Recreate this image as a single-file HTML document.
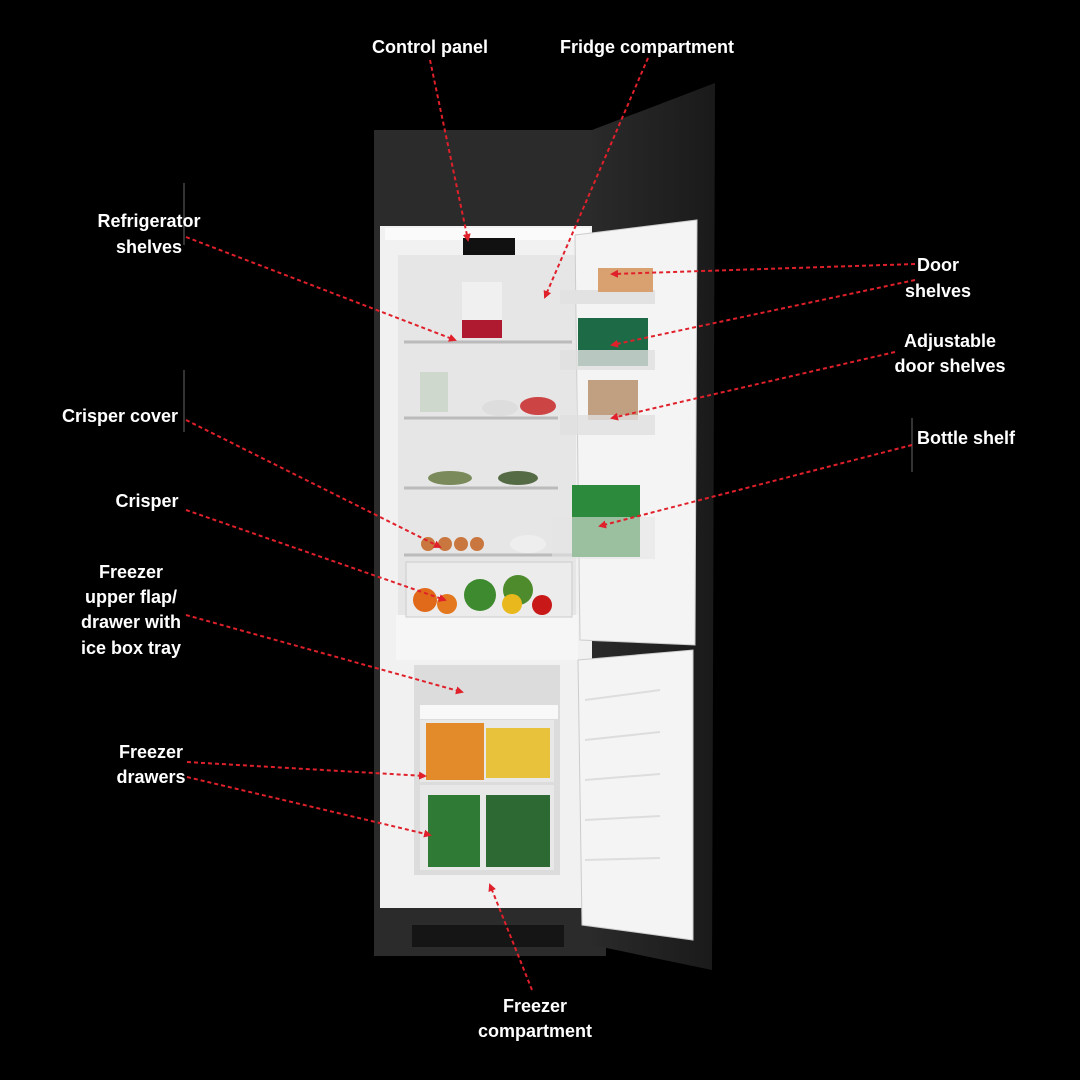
<!DOCTYPE html>
<html><head><meta charset="utf-8"><style>
html,body{margin:0;padding:0;background:#000;}
svg{display:block}
text{font-family:"Liberation Sans",sans-serif;font-weight:bold;font-size:18px;fill:#fff;text-anchor:middle}
</style></head><body>
<svg width="1080" height="1080" viewBox="0 0 1080 1080" xmlns="http://www.w3.org/2000/svg">
<defs>
<marker id="a" markerWidth="8" markerHeight="8" refX="6" refY="4" orient="auto" markerUnits="userSpaceOnUse"><path d="M0,0 L8,4 L0,8 z" fill="#e0202a"/></marker>
<linearGradient id="door" x1="0" x2="1"><stop offset="0" stop-color="#2a2a2a"/><stop offset="1" stop-color="#1a1a1a"/></linearGradient>
</defs>
<rect width="1080" height="1080" fill="#000"/>
<rect x="374" y="130" width="232" height="826" fill="#2b2b2b"/>
<polygon points="592,130 715,83 712,970 592,945" fill="url(#door)"/>
<rect x="380" y="226" width="212" height="682" fill="#f1f1f1"/>
<rect x="398" y="255" width="178" height="360" fill="#e6e6e6"/>
<rect x="385" y="228" width="205" height="12" fill="#fafafa"/>
<rect x="463" y="238" width="52" height="17" fill="#111"/>
<rect x="396" y="615" width="182" height="45" fill="#f6f6f6"/>
<rect x="414" y="665" width="146" height="210" fill="#dcdcdc"/>
<rect x="420" y="705" width="138" height="14" fill="#f8f8f8"/>
<rect x="420" y="720" width="134" height="62" fill="#e8e8e8"/>
<rect x="420" y="785" width="134" height="85" fill="#e8e8e8"/>
<rect x="462" y="282" width="40" height="38" fill="#f0f0f0"/>
<rect x="462" y="320" width="40" height="18" fill="#b01a30"/>
<line x1="404" y1="342" x2="572" y2="342" stroke="#bbb" stroke-width="3"/>
<line x1="404" y1="418" x2="558" y2="418" stroke="#bbb" stroke-width="3"/>
<line x1="404" y1="488" x2="558" y2="488" stroke="#bbb" stroke-width="3"/>
<line x1="404" y1="555" x2="572" y2="555" stroke="#bbb" stroke-width="3"/>
<rect x="420" y="372" width="28" height="40" fill="#cfd8cc"/>
<ellipse cx="500" cy="408" rx="18" ry="8" fill="#ddd"/><ellipse cx="538" cy="406" rx="18" ry="9" fill="#c44"/>
<ellipse cx="450" cy="478" rx="22" ry="7" fill="#7a8a5a"/><ellipse cx="518" cy="478" rx="20" ry="7" fill="#556b45"/>
<g fill="#c9773e"><circle cx="428" cy="544" r="7"/><circle cx="445" cy="544" r="7"/><circle cx="461" cy="544" r="7"/><circle cx="477" cy="544" r="7"/></g>
<ellipse cx="528" cy="544" rx="18" ry="9" fill="#eee"/>
<rect x="406" y="562" width="166" height="55" fill="#ececec" stroke="#ccc"/>
<g><circle cx="425" cy="600" r="12" fill="#e06a1a"/><circle cx="447" cy="604" r="10" fill="#e4781e"/><circle cx="480" cy="595" r="16" fill="#3e8a2e"/><circle cx="518" cy="590" r="15" fill="#4d8b2c"/><circle cx="512" cy="604" r="10" fill="#e8b81c"/><circle cx="542" cy="605" r="10" fill="#c81818"/></g>
<rect x="426" y="723" width="58" height="57" fill="#e38a2a"/><rect x="486" y="728" width="64" height="50" fill="#e7c23a"/>
<rect x="428" y="795" width="52" height="72" fill="#2f7a35"/><rect x="486" y="795" width="64" height="72" fill="#2d6a33"/>
<rect x="412" y="925" width="152" height="22" fill="#151515"/>
<polygon points="575,235 697,220 695,645 580,640" fill="#f4f4f4" stroke="#ccc"/>
<rect x="560" y="290" width="95" height="14" fill="#e2e2e2"/>
<rect x="598" y="268" width="55" height="24" fill="#d9a070"/>
<rect x="578" y="318" width="70" height="48" fill="#1d6a47"/>
<rect x="560" y="350" width="95" height="20" fill="#e0e0e0" opacity=".8"/>
<rect x="588" y="380" width="50" height="40" fill="#c0a080"/>
<rect x="560" y="415" width="95" height="20" fill="#e0e0e0" opacity=".8"/>
<rect x="572" y="485" width="68" height="72" fill="#2b8a3b"/>
<rect x="552" y="517" width="103" height="42" fill="#e4e4e4" opacity=".6"/>
<polygon points="578,660 693,650 693,940 582,925" fill="#f4f4f4" stroke="#ccc"/>
<g stroke="#ddd" stroke-width="2"><line x1="585" y1="700" x2="660" y2="690"/><line x1="585" y1="740" x2="660" y2="732"/><line x1="585" y1="780" x2="660" y2="774"/><line x1="585" y1="820" x2="660" y2="816"/><line x1="585" y1="860" x2="660" y2="858"/></g>
<g stroke="#666" stroke-width="1"><line x1="184" y1="183" x2="184" y2="245"/><line x1="184" y1="370" x2="184" y2="432"/><line x1="912" y1="418" x2="912" y2="472"/></g>
<g stroke="#e0202a" stroke-width="2" stroke-dasharray="4,3" fill="none" marker-end="url(#a)">
<line x1="430" y1="60" x2="468" y2="240"/>
<line x1="648" y1="58" x2="545" y2="297"/>
<line x1="186" y1="237" x2="455" y2="340"/>
<line x1="915" y1="264" x2="612" y2="274"/>
<line x1="915" y1="280" x2="612" y2="345"/>
<line x1="895" y1="352" x2="612" y2="418"/>
<line x1="912" y1="445" x2="600" y2="526"/>
<line x1="186" y1="420" x2="440" y2="547"/>
<line x1="186" y1="510" x2="445" y2="600"/>
<line x1="186" y1="615" x2="462" y2="692"/>
<line x1="187" y1="762" x2="425" y2="776"/>
<line x1="187" y1="777" x2="430" y2="835"/>
<line x1="532" y1="990" x2="490" y2="885"/>
</g>
<text x="430" y="53">Control panel</text>
<text x="647" y="53">Fridge compartment</text>
<text x="149" y="227">Refrigerator</text>
<text x="149" y="253">shelves</text>
<text x="938" y="271">Door</text>
<text x="938" y="297">shelves</text>
<text x="950" y="347">Adjustable</text>
<text x="950" y="372">door shelves</text>
<text x="966" y="444">Bottle shelf</text>
<text x="120" y="422">Crisper cover</text>
<text x="147" y="507">Crisper</text>
<text x="131" y="578">Freezer</text>
<text x="131" y="603">upper flap/</text>
<text x="131" y="628">drawer with</text>
<text x="131" y="654">ice box tray</text>
<text x="151" y="758">Freezer</text>
<text x="151" y="783">drawers</text>
<text x="535" y="1012">Freezer</text>
<text x="535" y="1037">compartment</text>
</svg>
</body></html>
